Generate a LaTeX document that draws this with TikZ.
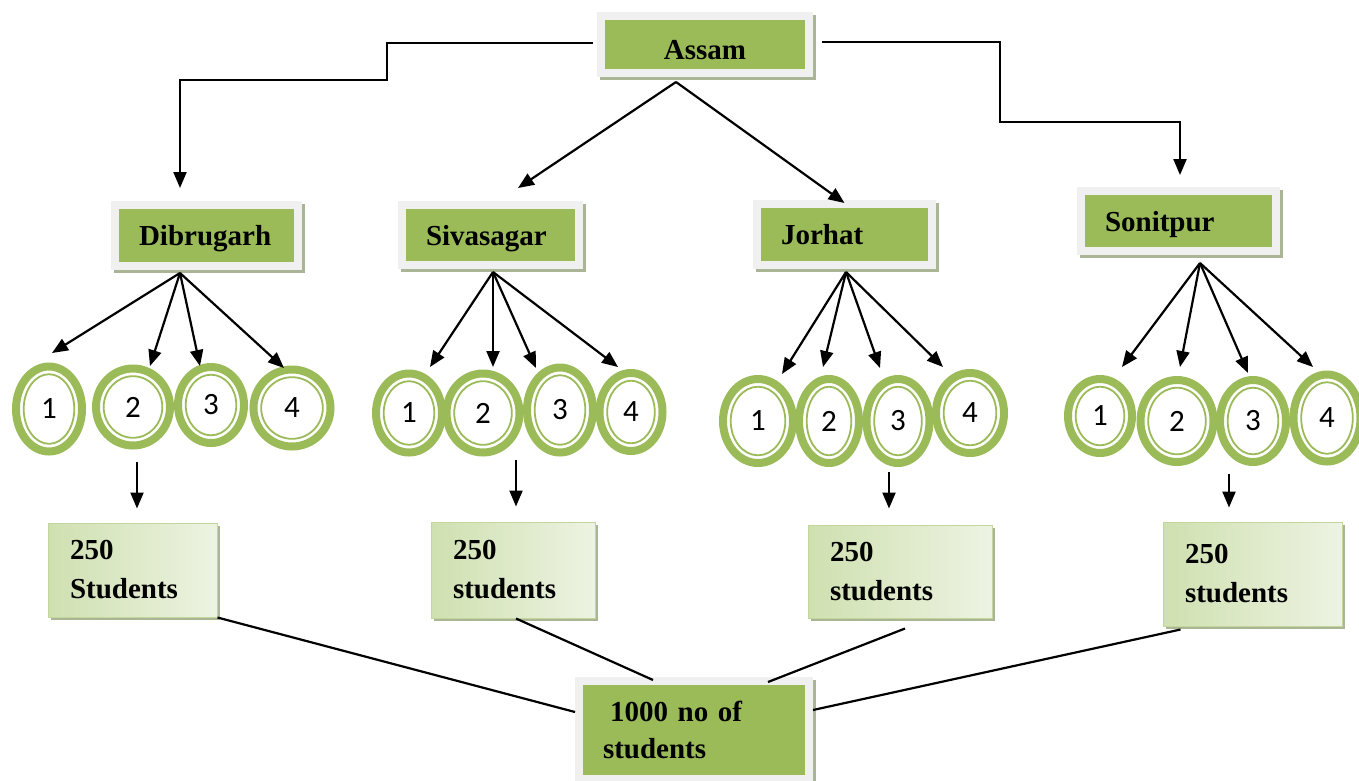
\documentclass[tikz,border=0pt]{standalone}
\usepackage{fontspec}
\setmainfont{Liberation Serif}
\newfontfamily\numfont{Carlito}
\usetikzlibrary{arrows.meta,shapes.geometric}
\definecolor{leafgreen}{HTML}{9BBB59}
\definecolor{framegray}{HTML}{F0F0F0}
\definecolor{shadowgreen}{HTML}{A9B594}
\definecolor{tallyedge}{HTML}{C3D69B}
\definecolor{tallyleft}{HTML}{CFE0B0}
\definecolor{tallyright}{HTML}{EDF3E2}

\begin{document}
\begin{tikzpicture}[x=1pt,y=-1pt,>={Triangle[length=16pt,width=13pt]},
  link/.style={line width=2.2pt},
  region/.style={draw=framegray,fill=leafgreen,line width=8pt,outer sep=4pt,
    inner xsep=24pt,inner ysep=0pt,align=left,
    font=\fontsize{29}{37}\selectfont\bfseries,
    preaction={draw=shadowgreen,fill=shadowgreen,line width=8pt,
      transform canvas={shift={(3pt,-3pt)}}}},
  district/.style={region,text height=20pt,text depth=0pt},
  ring/.style={ellipse,draw=leafgreen,line width=8pt,outer sep=4pt,inner sep=0pt,
    font=\numfont\fontsize{31}{33}\selectfont},
  tally/.style={draw=tallyedge,line width=1pt,left color=tallyleft,right color=tallyright,
    inner xsep=22pt,inner ysep=0pt,align=left,
    font=\fontsize{29}{39}\selectfont\bfseries,
    preaction={fill=shadowgreen,transform canvas={shift={(3pt,-3pt)}}}}]
\useasboundingbox (0,0) rectangle (1359,780);
\clip (0,0) rectangle (1359,780);

\node[district,align=center,text height=29pt,minimum width=208,minimum height=57,text width=160] (assam) at (705,44.5) {Assam};
\node[district,minimum width=183,minimum height=61,text width=135] (dib) at (206.5,235.5) {Dibrugarh};
\node[district,minimum width=177,minimum height=60,text width=129] (siv) at (490.5,235) {Sivasagar};
\node[district,minimum width=175,minimum height=61,text width=127] (jor) at (844.5,234.5) {Jorhat};
\node[district,minimum width=195,minimum height=60,text width=147] (son) at (1178.5,221) {Sonitpur};

\foreach \n/\x/\y/\w/\h/\t in {a1/49/409/74/93/1,a2/133/407/82/85/2,a3/211/405/74/84/3,a4/292/408/85/85/4,
  b1/409/413/74/87/1,b2/483/413/81/87/2,b3/560/410/74/93/3,b4/631/412/71/86/4,
  c1/758/421/78/92/1,c2/829/421/68/92/2,c3/898/421/71/92/3,c4/970/413/76/88/4,
  d1/1100/416/72/82/1,d2/1177/421/81/90/2,d3/1253/421/74/90/3,d4/1327/418/75/95/4}
{
  \node[ring,minimum width=\w-8,minimum height=\h-8] (\n) at (\x,\y) {\t};
  \draw[leafgreen,line width=1.8pt] (\n.center) ellipse ({\w/2-11.7} and {\h/2-11.7});
}

\node[tally,minimum width=169,minimum height=94,text width=125] (dibN) at (132.5,570) {250\\Students};
\node[tally,minimum width=164,minimum height=96,text width=120] (sivN) at (513,570) {250\\students};
\node[tally,minimum width=184,minimum height=93,text width=140] (jorN) at (900,571.5) {250\\students};
\node[tally,minimum width=179,minimum height=104,text width=135] (sonN) at (1252.5,574) {250\\students};

\node[region,minimum width=230,minimum height=98,text width=182] (total) at (694,730) {\hspace*{7pt}1000 no of\\students};

\draw[link,->] ([xshift=-4pt,yshift=1.5pt]assam.west) -| (387,80) -| ([xshift=-26.5pt,yshift=13pt]dib.north);
\draw[link,->] ([xshift=9pt,yshift=2.5pt]assam.east) -| (1000,122) -| ([xshift=1.5pt,yshift=12pt]son.north);
\coordinate (hub) at ([xshift=-29pt,yshift=-5pt]assam.south);
\draw[link,->] (hub) -- ([xshift=27.5pt,yshift=13pt]siv.north);
\draw[link,->] (hub) -- ([yshift=-3pt]jor.north);

\coordinate (fanA) at ([xshift=-26.5pt,yshift=-3pt]dib.south);
\coordinate (fanB) at ([xshift=2.5pt,yshift=-3pt]siv.south);
\coordinate (fanC) at ([xshift=1.5pt,yshift=-3pt]jor.south);
\coordinate (fanD) at ([xshift=21.5pt,yshift=-8pt]son.south);
\foreach \g/\n/\x/\y in {A/a1/52/353,A/a2/150/366,A/a3/200/366,A/a4/284/368,
  B/b1/430/367,B/b2/493/367,B/b3/536/368,B/b4/618/367,
  C/c1/782/374,C/c2/823/367,C/c3/880/368,C/c4/943/367,
  D/d1/1122/367,D/d2/1180/367,D/d3/1248/373,D/d4/1313/367}
{
  \coordinate (\n tip) at (\x,\y);
  \draw[link,->] (fan\g) -- (\n tip);
}

\foreach \g/\x/\y/\s/\t in {A/137/462/14/dibN,B/516/460/15/sivN,C/889/472/16/jorN,D/1229/474/14/sonN}
{
  \coordinate (drop\g) at (\x,\y);
  \draw[link,->,shorten >=\s pt] (drop\g) -- (drop\g |- \t.north);
}

\draw[link] (dibN.south east) -- ([yshift=18pt]total.west);
\draw[link] ([xshift=3pt]sivN.south) -- ([xshift=-41pt,yshift=-3pt]total.north);
\draw[link] ([xshift=5pt,yshift=-10pt]jorN.south) -- ([xshift=74pt,yshift=-5pt]total.north);
\draw[link] ([xshift=-72pt,yshift=-3pt]sonN.south) -- ([yshift=20pt]total.east);
\end{tikzpicture}
\end{document}
